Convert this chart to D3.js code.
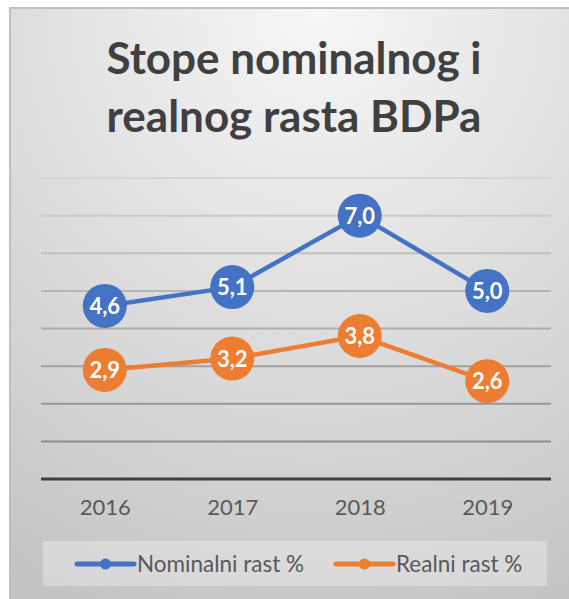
<!DOCTYPE html>
<html>
<head>
<meta charset="utf-8">
<script src="https://cdn.jsdelivr.net/npm/d3@7"></script>
<style>
  body { margin: 0; background: #fff; }
  svg { display: block; }
</style>
</head>
<body>
<div id="chart-area"></div>
<script>
// Chart data
var years = ["2016", "2017", "2018", "2019"];
var nominalni = [4.6, 5.1, 7.0, 5.0];
var realni = [2.9, 3.2, 3.8, 2.6];
var seriesNames = ["Nominalni rast %", "Realni rast %"];
var seriesColors = ["#4472C4", "#ED7D31"];
var titleLines = ["Stope nominalnog i", "realnog rasta BDPa"];

var width = 569;
var height = 599;
var margin = { top: 178, right: 18, bottom: 120, left: 41 };
var innerWidth = width - margin.left - margin.right;
var innerHeight = height - margin.top - margin.bottom;

var svg = d3.select("#chart-area")
    .append("svg")
    .attr("width", width)
    .attr("height", height);

// Background gradient
var defs = svg.append("defs");
var grad = defs.append("radialGradient")
    .attr("id", "bg")
    .attr("cx", "55%").attr("cy", "0%")
    .attr("r", "110%");
grad.append("stop").attr("offset", "0%").attr("stop-color", "#f7f7f7");
grad.append("stop").attr("offset", "100%").attr("stop-color", "#c4c4c4");

svg.append("rect")
    .attr("x", 10)
    .attr("y", 8)
    .attr("width", width - 10)
    .attr("height", height - 8)
    .attr("fill", "url(#bg)");

// only top and left border are visible in the crop
svg.append("path")
    .attr("d", `M10,${height}V8H${width}`)
    .attr("fill", "none")
    .attr("stroke", "#c0c0c0")
    .attr("stroke-width", 2);

// Title
svg.append("text")
    .attr("x", 294)
    .attr("y", 74)
    .attr("text-anchor", "middle")
    .attr("font-family", "Lato, sans-serif")
    .attr("font-weight", "bold")
    .attr("font-size", "44px")
    .attr("fill", "#404040")
    .selectAll("tspan")
    .data(titleLines)
    .enter()
    .append("tspan")
    .attr("x", 294)
    .attr("dy", (d, i) => i === 0 ? 0 : 58)
    .text(d => d);

var g = svg.append("g")
    .attr("transform", `translate(${margin.left}, ${margin.top})`);

var x = d3.scalePoint()
    .domain(years)
    .range([0, innerWidth])
    .padding(0.5);

var y = d3.scaleLinear()
    .domain([0, 8])
    .range([innerHeight, 0]);

// Gridlines, darker towards the bottom
var gridShade = d3.scaleLinear().domain([1, 8]).range(["#8c8c8c", "#d4d4d4"]);
g.selectAll(".grid")
    .data(d3.range(1, 9))
    .enter()
    .append("line")
    .attr("class", "grid")
    .attr("x1", 0)
    .attr("x2", innerWidth)
    .attr("y1", d => y(d))
    .attr("y2", d => y(d))
    .attr("stroke", d => gridShade(d))
    .attr("stroke-width", 2);

// X axis
var xAxis = g.append("g")
    .attr("transform", `translate(0, ${innerHeight})`)
    .call(d3.axisBottom(x).tickSize(0).tickPadding(20));
xAxis.select(".domain")
    .attr("d", `M0,0H${innerWidth}`)
    .attr("stroke", "#404040")
    .attr("stroke-width", 3);
xAxis.selectAll("text")
    .attr("font-family", "Lato, sans-serif")
    .attr("font-size", "22px")
    .attr("fill", "#595959");

// Lines and labelled markers
var series = [nominalni, realni];
var line = d3.line()
    .x((d, i) => x(years[i]))
    .y(d => y(d));

series.forEach((vals, s) => {
    g.append("path")
        .datum(vals)
        .attr("fill", "none")
        .attr("stroke", seriesColors[s])
        .attr("stroke-width", 4.5)
        .attr("stroke-linejoin", "round")
        .attr("d", line);

    var pts = g.selectAll(".pt" + s)
        .data(vals)
        .enter()
        .append("g")
        .attr("class", "pt" + s)
        .attr("transform", (d, i) => `translate(${x(years[i])}, ${y(d)})`);

    pts.append("circle")
        .attr("r", 22)
        .attr("fill", seriesColors[s]);

    pts.append("text")
        .attr("text-anchor", "middle")
        .attr("dy", "0.36em")
        .attr("font-family", "Lato, sans-serif")
        .attr("font-weight", "bold")
        .attr("font-size", "22px")
        .attr("fill", "#fff")
        .text(d => d.toFixed(1).replace(".", ","));
});

// Legend
svg.append("rect")
    .attr("x", 43)
    .attr("y", 541)
    .attr("width", 504)
    .attr("height", 45)
    .attr("fill", "#ffffff")
    .attr("fill-opacity", 0.3);

var legendX = [77, 336];
var legend = svg.selectAll(".legend")
    .data(seriesNames)
    .enter()
    .append("g")
    .attr("class", "legend")
    .attr("transform", (d, i) => `translate(${legendX[i]}, 564)`);

legend.append("line")
    .attr("x1", 0)
    .attr("x2", 57)
    .attr("stroke", (d, i) => seriesColors[i])
    .attr("stroke-width", 5)
    .attr("stroke-linecap", "round");

legend.append("circle")
    .attr("cx", 28.5)
    .attr("r", 5.5)
    .attr("fill", (d, i) => seriesColors[i]);

legend.append("text")
    .attr("x", 60)
    .attr("y", 8)
    .attr("font-family", "Lato, sans-serif")
    .attr("font-size", "22.5px")
    .attr("fill", "#595959")
    .text(d => d);
</script>
</body>
</html>
